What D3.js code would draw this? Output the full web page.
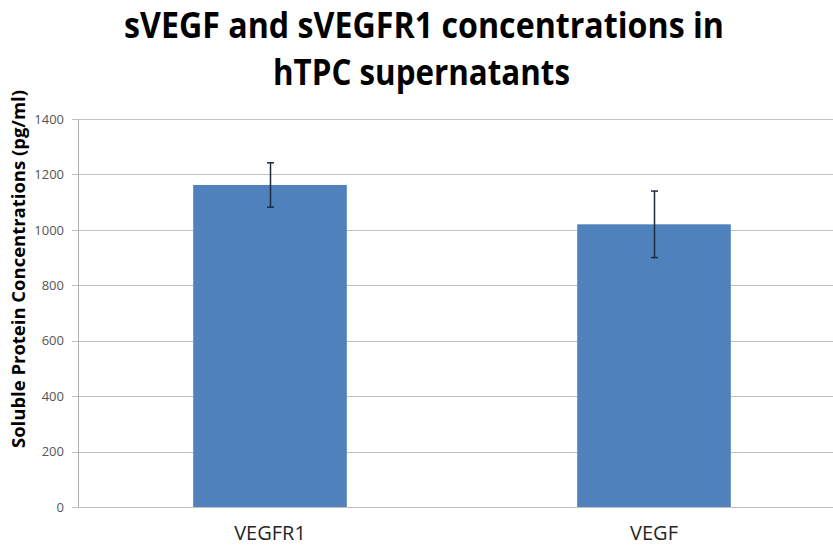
<!DOCTYPE html>
<html><head><meta charset="utf-8">
<script src="https://cdn.jsdelivr.net/npm/d3@7"></script>
<style>body{margin:0;background:#fff}svg{display:block}</style>
</head><body>
<svg id="chart" width="833" height="547"></svg>
<script>
const categories = ["VEGFR1", "VEGF"];
const values = [1162, 1020];
const errors = [80, 120];
const yTicks = [0, 200, 400, 600, 800, 1000, 1200, 1400];
const titleLines = ["sVEGF and sVEGFR1 concentrations in", "hTPC supernatants"];
const yLabel = "Soluble Protein Concentrations (pg/ml)";

const svg = d3.select("#chart");
const mLeft = 78, mRight = 846, mTop = 119, mBottom = 507;
const FONT = "'Open Sans', 'DejaVu Sans', sans-serif";
const x = d3.scaleBand().domain(categories).range([mLeft, mRight]).paddingInner(0.6).paddingOuter(0.3);
const y = d3.scaleLinear().domain([0, 1400]).range([mBottom, mTop]);

// gridlines
svg.append("g").selectAll("line").data(yTicks).join("line")
  .attr("x1", mLeft - 6).attr("x2", 833)
  .attr("y1", d => Math.round(y(d)) + 0.5).attr("y2", d => Math.round(y(d)) + 0.5)
  .attr("stroke", "#c0c0c0").attr("stroke-width", 1);
// y axis line
svg.append("line").attr("x1", mLeft + 0.5).attr("x2", mLeft + 0.5).attr("y1", mTop).attr("y2", mBottom)
  .attr("stroke", "#b0b0b0");

// tick labels
svg.append("g").selectAll("text").data(yTicks).join("text")
  .attr("x", mLeft - 14).attr("y", d => y(d) + 4.7)
  .attr("text-anchor", "end").attr("font-family", FONT)
  .attr("font-size", 13).attr("fill", "#555").text(d => d);

// bars
svg.append("g").selectAll("rect").data(categories).join("rect")
  .attr("x", d => x(d)).attr("width", x.bandwidth())
  .attr("y", (d, i) => y(values[i])).attr("height", (d, i) => y(0) - y(values[i]))
  .attr("fill", "#4f81bd");

// error bars
const eg = svg.append("g").attr("stroke", "#1c2a40").attr("stroke-width", 1.5);
categories.forEach((c, i) => {
  const cx = Math.round(x(c) + x.bandwidth() / 2) + 0.5;
  const yt = y(values[i] + errors[i]), yb = y(values[i] - errors[i]);
  eg.append("line").attr("x1", cx).attr("x2", cx).attr("y1", yt).attr("y2", yb);
  eg.append("line").attr("x1", cx - 3.5).attr("x2", cx + 3.5).attr("y1", yt).attr("y2", yt);
  eg.append("line").attr("x1", cx - 3.5).attr("x2", cx + 3.5).attr("y1", yb).attr("y2", yb);
});

// category labels
svg.append("g").selectAll("text").data(categories).join("text")
  .attr("x", d => x(d) + x.bandwidth() / 2).attr("y", 540)
  .attr("text-anchor", "middle").attr("font-family", FONT)
  .attr("font-size", 20).attr("fill", "#262626").text(d => d);

// title
const titleX = [424, 421.5], titleY = [38, 85], titleW = [600, 297];
svg.append("g").selectAll("text").data(titleLines).join("text")
  .attr("x", (d, i) => titleX[i]).attr("y", (d, i) => titleY[i])
  .attr("text-anchor", "middle").attr("font-family", FONT)
  .attr("font-weight", "bold").attr("font-size", 35).attr("fill", "#000")
  .attr("textLength", (d, i) => titleW[i]).attr("lengthAdjust", "spacingAndGlyphs")
  .text(d => d);

// y label
svg.append("text").attr("transform", "translate(25,269) rotate(-90)")
  .attr("text-anchor", "middle").attr("font-family", FONT)
  .attr("font-weight", "bold").attr("font-size", 17.5).attr("fill", "#000")
  .attr("textLength", 358).attr("lengthAdjust", "spacingAndGlyphs")
  .text(yLabel);
</script>
</body></html>
